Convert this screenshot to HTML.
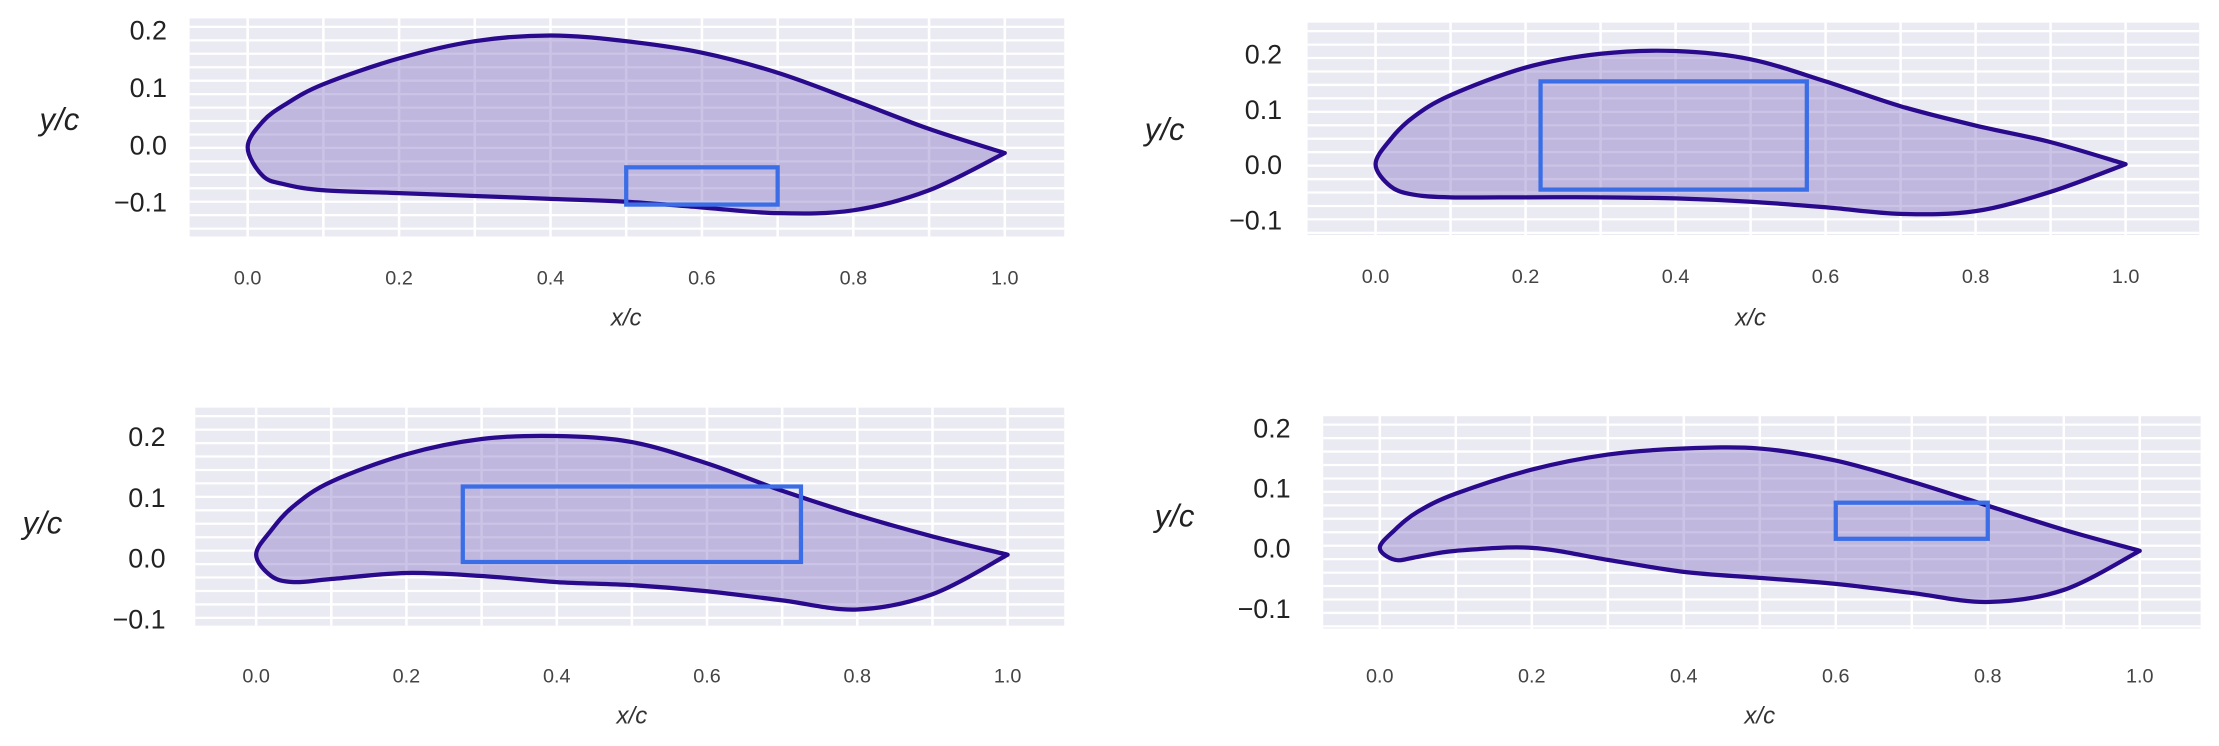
<!DOCTYPE html>
<html><head><meta charset="utf-8"><style>
html,body{margin:0;padding:0;background:#fff;width:2219px;height:746px;overflow:hidden}
svg text{font-family:"Liberation Sans",sans-serif}
</style></head><body>
<svg id="c" width="2219" height="746" viewBox="0 0 1568 527" preserveAspectRatio="none" xmlns="http://www.w3.org/2000/svg"></svg>
<script>
const xs = [0,0.02,0.05,0.1,0.2,0.3,0.4,0.5,0.6,0.7,0.8,0.9,1.0];
const upper1 = [-0.005,0.04,0.07,0.105,0.15,0.18,0.19,0.18,0.16,0.125,0.077,0.027,-0.015];
const lower1 = [-0.005,-0.055,-0.07,-0.08,-0.085,-0.09,-0.095,-0.1,-0.11,-0.12,-0.115,-0.08,-0.015];
const box1 = [0.5,0.7,-0.105,-0.04];
const upper2 = [0,0.045,0.085,0.125,0.175,0.2,0.205,0.19,0.15,0.105,0.07,0.04,0.0];
const lower2 = [0,-0.04,-0.055,-0.06,-0.06,-0.06,-0.062,-0.068,-0.078,-0.09,-0.085,-0.05,0.0];
const box2 = [0.22,0.575,-0.046,0.15];
const upper3 = [0.005,0.045,0.085,0.125,0.17,0.195,0.2,0.19,0.155,0.11,0.07,0.035,0.005];
const lower3 = [0.005,-0.03,-0.04,-0.035,-0.025,-0.03,-0.04,-0.045,-0.055,-0.07,-0.085,-0.06,0.005];
const box3 = [0.275,0.725,-0.007,0.117];
const upper4 = [0,0.03,0.06,0.09,0.13,0.155,0.165,0.165,0.145,0.11,0.07,0.03,-0.005];
const lower4 = [0,-0.02,-0.015,-0.005,0,-0.02,-0.04,-0.05,-0.06,-0.075,-0.09,-0.07,-0.005];
const box4 = [0.6,0.8,0.015,0.075];
const xTicks = ["0.0","0.2","0.4","0.6","0.8","1.0"];
const yTicks = ["0.2","0.1","0.0","−0.1"];

const panels = [
 {up:upper1,lo:lower1,box:box1,x0:175,x1:710,y0:102,ppu:405,bg:[134,13,752,167],tickY:201,labY:230,ylabX:42,ylabY:92,tickX:118},
 {up:upper2,lo:lower2,box:box2,x0:972,x1:1502,y0:116,ppu:390,bg:[924,16,1554,166],tickY:200,labY:230,ylabX:823,ylabY:99,tickX:906},
 {up:upper3,lo:lower3,box:box3,x0:181,x1:712,y0:394,ppu:430,bg:[138,288,752,442],tickY:482,labY:511,ylabX:30,ylabY:377,tickX:117},
 {up:upper4,lo:lower4,box:box4,x0:975,x1:1512,y0:387,ppu:425,bg:[935,294,1555,444],tickY:482,labY:511,ylabX:830,ylabY:372,tickX:912},
];
const svg=document.getElementById('c');
const NS='http://www.w3.org/2000/svg';
function mk(tag,attrs,parent){const e=document.createElementNS(NS,tag);for(const k in attrs)e.setAttribute(k,attrs[k]);parent.appendChild(e);return e;}
function curve(pts){
 let d='M'+pts[0][0]+','+pts[0][1];
 for(let i=0;i<pts.length-1;i++){
  const p0=pts[Math.max(0,i-1)],p1=pts[i],p2=pts[i+1],p3=pts[Math.min(pts.length-1,i+2)];
  const c1=[p1[0]+(p2[0]-p0[0])/6,p1[1]+(p2[1]-p0[1])/6];
  const c2=[p2[0]-(p3[0]-p1[0])/6,p2[1]-(p3[1]-p1[1])/6];
  d+=' C'+c1[0]+','+c1[1]+' '+c2[0]+','+c2[1]+' '+p2[0]+','+p2[1];
 }
 return d;
}
panels.forEach((p,pi)=>{
 const g=mk('g',{},svg);
 
 
 const sx=v=>p.x0+(p.x1-p.x0)*v, sy=v=>p.y0-p.ppu*v;
 const [bx0,by0,bx1,by1]=p.bg;
 const bg=mk('rect',{x:bx0,y:by0,width:bx1-bx0,height:by1-by0,fill:'#eaeaf2'},g);
 
 
 for(let y=by0+6;y<by1;y+=9.5) mk('line',{x1:bx0,x2:bx1,y1:y,y2:y,stroke:'#fff','stroke-width':1.6},g);
 for(let v=-0.1;v<=1.15;v+=0.1){const x=sx(v);if(x>bx0&&x<bx1)mk('line',{x1:x,x2:x,y1:by0,y2:by1,stroke:'#fff','stroke-width':1.8},g);}
 const pts=[];
 for(let i=xs.length-1;i>=0;i--)pts.push([sx(xs[i]),sy(p.up[i])]);
 for(let i=1;i<xs.length;i++)pts.push([sx(xs[i]),sy(p.lo[i])]);
 const path=mk('path',{d:curve(pts)+'Z',fill:'rgba(120,100,190,0.38)',stroke:'#2a0a8c','stroke-width':3,'stroke-linejoin':'round'},g);
 
 
 const b=p.box;
 const r=mk('rect',{x:sx(b[0]),y:sy(b[3]),width:sx(b[1])-sx(b[0]),height:sy(b[2])-sy(b[3]),fill:'none',stroke:'#3b6ee6','stroke-width':3},g);
 
 
 xTicks.forEach(t=>{const tx=mk('text',{x:sx(parseFloat(t)),y:p.tickY,'font-size':14,fill:'#444','text-anchor':'middle'},g);tx.textContent=t;
  
  });
 yTicks.forEach(t=>{const v=parseFloat(t.replace('−','-'));const tx=mk('text',{x:p.tickX,y:sy(v)+7,'font-size':19,fill:'#222','text-anchor':'end'},g);tx.textContent=t;
  
  });
 const xl=mk('text',{x:sx(0.5),y:p.labY,'font-size':17,'font-style':'italic',fill:'#333','text-anchor':'middle'},g);xl.textContent='x/c';
 
 
 const yl=mk('text',{x:p.ylabX,y:p.ylabY,'font-size':22,'font-style':'italic',fill:'#222','text-anchor':'middle'},g);yl.textContent='y/c';
 
 
});
</script>
</body></html>
